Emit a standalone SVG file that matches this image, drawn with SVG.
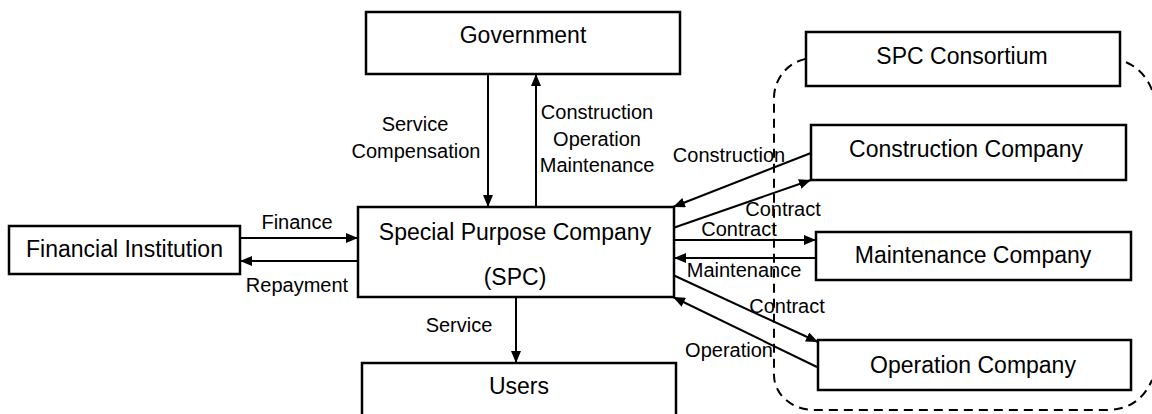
<svg xmlns="http://www.w3.org/2000/svg" width="1152" height="414" viewBox="0 0 1152 414">
<defs>
<style>
.box{fill:#fff;stroke:#000;stroke-width:2.5}
.nt{font-family:"Liberation Sans",Arial,sans-serif;font-size:23px;fill:#000;text-anchor:middle}
.lb{font-family:"Liberation Sans",Arial,sans-serif;font-size:20px;fill:#000;text-anchor:middle}
.cn{stroke:#000;stroke-width:2;fill:none;marker-end:url(#ah)}
.dash{fill:none;stroke:#000;stroke-width:2;stroke-dasharray:9 6}
</style>
<marker id="ah" markerUnits="userSpaceOnUse" markerWidth="13" markerHeight="10" refX="12" refY="5" orient="auto">
<path d="M0,0 L12,5 L0,10 z" fill="#000"/>
</marker>
</defs>
<rect width="1152" height="414" fill="#fff"/>
<g id="connectors">
<line class="cn" x1="240" y1="238" x2="358" y2="238"/>
<line class="cn" x1="358" y1="261" x2="240" y2="261"/>
<line class="cn" x1="488" y1="74" x2="488" y2="207"/>
<line class="cn" x1="536" y1="207" x2="536" y2="74"/>
<line class="cn" x1="516" y1="297" x2="516" y2="363"/>
<line class="cn" x1="811" y1="153" x2="673" y2="207"/>
<line class="cn" x1="673" y1="228" x2="811" y2="180"/>
<line class="cn" x1="674" y1="240" x2="816" y2="240"/>
<line class="cn" x1="816" y1="258" x2="674" y2="258"/>
<line class="cn" x1="673" y1="275" x2="818" y2="342"/>
<line class="cn" x1="817" y1="367" x2="673" y2="297"/>
</g>
<g id="labels">
<text class="lb" x="297" y="229">Finance</text>
<text class="lb" x="297" y="292">Repayment</text>
<text class="lb" x="415" y="131">Service</text>
<text class="lb" x="416" y="158">Compensation</text>
<text class="lb" x="597" y="119">Construction</text>
<text class="lb" x="597" y="146">Operation</text>
<text class="lb" x="597" y="172">Maintenance</text>
<text class="lb" x="459" y="332">Service</text>
<text class="lb" x="729" y="162">Construction</text>
<text class="lb" x="783" y="216">Contract</text>
<text class="lb" x="739" y="236">Contract</text>
<text class="lb" x="744" y="277">Maintenance</text>
<text class="lb" x="787" y="313">Contract</text>
<text class="lb" x="729" y="357">Operation</text>
</g>
<g id="consortium-boundary">
<path class="dash" d="M1152,90 Q1141,62 1110,58 H814 A40 40 0 0 0 774,98 V375 A40 35 0 0 0 814,410 H1110 Q1140,408 1152,380"/>
</g>
<g id="government">
<rect class="box" x="366" y="12" width="314" height="62"/>
<text class="nt" x="523" y="43">Government</text>
</g>
<g id="financial-institution">
<rect class="box" x="9" y="226" width="231" height="48"/>
<text class="nt" x="124.5" y="257">Financial Institution</text>
</g>
<g id="spc">
<rect class="box" x="358" y="207" width="316" height="90"/>
<text class="nt" x="515" y="240">Special Purpose Company</text>
<text class="nt" x="515" y="285">(SPC)</text>
</g>
<g id="users">
<rect class="box" x="362" y="363" width="314" height="70"/>
<text class="nt" x="519" y="394">Users</text>
</g>
<g id="spc-consortium">
<rect class="box" x="806" y="32" width="314" height="54"/>
<text class="nt" x="962" y="64">SPC Consortium</text>
</g>
<g id="construction-company">
<rect class="box" x="811" y="125" width="315" height="55"/>
<text class="nt" x="966" y="157">Construction Company</text>
</g>
<g id="maintenance-company">
<rect class="box" x="816" y="232" width="315" height="48"/>
<text class="nt" x="973" y="263">Maintenance Company</text>
</g>
<g id="operation-company">
<rect class="box" x="818" y="340" width="313" height="50"/>
<text class="nt" x="973" y="373">Operation Company</text>
</g>
</svg>
